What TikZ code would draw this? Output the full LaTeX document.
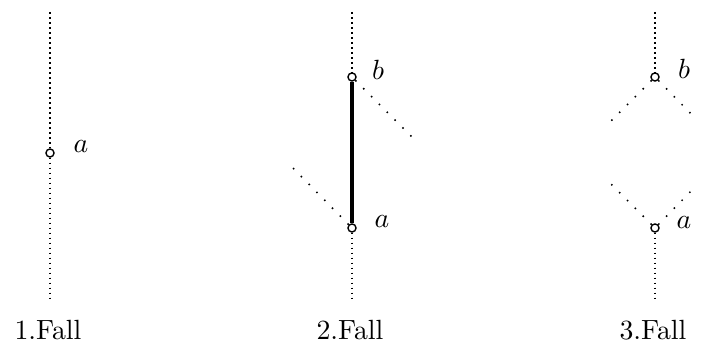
\documentclass[tikz,border=0pt]{standalone}
\usetikzlibrary{positioning}
\tikzset{
  fall vert/.style={draw=black, line width=0.55pt, dash pattern=on 0.55pt off 1.25pt},
  fall diag/.style={draw=black, line width=0.55pt, dash pattern=on 0.55pt off 3.45pt},
  fall edge/.style={draw=black, line width=1.1pt},
  fall point/.style={circle, draw=black, fill=white, line width=0.5pt, minimum size=2.9pt, inner sep=0pt},
  fall label/.style={font=\normalsize},
}

\begin{document}
\begin{tikzpicture}[x=0.36pt, y=0.36pt]
  \useasboundingbox (0,0) rectangle (702,348);
  % 1. Fall: one point on a vertical line
  \coordinate (t1) at (50,336);
  \coordinate (u1) at (50,48);
  \node[fall point] (a1) at (50,195) {};
  \draw[fall vert] (t1) -- (a1);
  \draw[fall vert] (a1) -- (u1);
  \node[fall label] (la1) at (81,201) {$a$};
  \node[fall label] (c1) at (48,18) {1.Fall};
  % 2. Fall: a below b, joined by a solid segment
  \coordinate (t2) at (352,336);
  \coordinate (u2) at (352,48);
  \coordinate (e2b) at (417,206);
  \coordinate (e2a) at (288,185);
  \node[fall point] (b2) at (352,271) {};
  \node[fall point] (a2) at (352,120) {};
  \draw[fall edge] (a2) -- (b2);
  \draw[fall vert] (t2) -- (b2);
  \draw[fall vert] (a2) -- (u2);
  \draw[fall diag] (b2) -- (e2b);
  \draw[fall diag] (a2) -- (e2a);
  \node[fall label] (lb2) at (378,278) {$b$};
  \node[fall label] (la2) at (382,126) {$a$};
  \node[fall label] (c2) at (350,18) {2.Fall};
  % 3. Fall: a below b, no direct segment
  \coordinate (t3) at (655,336);
  \coordinate (u3) at (655,48);
  \coordinate (e3bl) at (605,221);
  \coordinate (e3br) at (697,228);
  \coordinate (e3al) at (605,170);
  \coordinate (e3ar) at (697,163);
  \node[fall point] (b3) at (655,271) {};
  \node[fall point] (a3) at (655,120) {};
  \draw[fall vert] (t3) -- (b3);
  \draw[fall vert] (a3) -- (u3);
  \draw[fall diag] (b3) -- (e3bl);
  \draw[fall diag] (b3) -- (e3br);
  \draw[fall diag] (a3) -- (e3al);
  \draw[fall diag] (a3) -- (e3ar);
  \node[fall label] (lb3) at (684,279) {$b$};
  \node[fall label] (la3) at (684,125) {$a$};
  \node[fall label] (c3) at (653,18) {3.Fall};
\end{tikzpicture}
\end{document}
